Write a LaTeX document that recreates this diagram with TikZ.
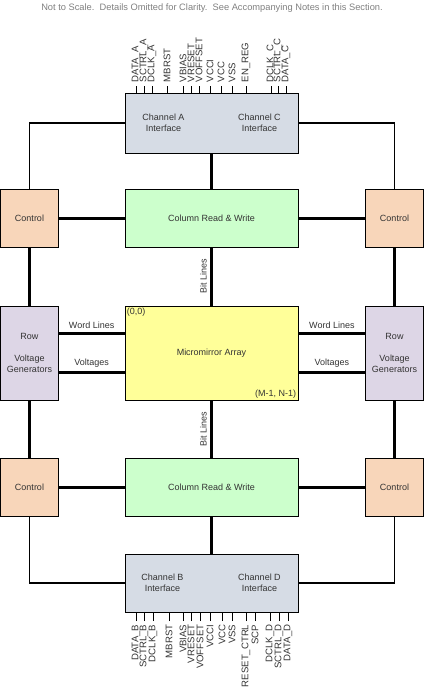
\documentclass[tikz,border=0pt]{standalone}
\usepackage{fontspec}
\setmainfont{Liberation Sans}
\usetikzlibrary{calc}
\definecolor{chanfill}{RGB}{214,220,229}
\definecolor{colfill}{RGB}{204,255,204}
\definecolor{arrayfill}{RGB}{255,255,153}
\definecolor{ctlfill}{RGB}{248,214,186}
\definecolor{rowfill}{RGB}{221,214,230}
\colorlet{boxtext}{black!80}
\colorlet{notetext}{black!50}

\begin{document}
\begin{tikzpicture}[x=1pt,y=-1pt,
        font=\fontsize{9}{11}\selectfont,
        blockbox/.style={draw=black, line width=0.8pt, text=boxtext, align=center,
            minimum width=173pt, inner sep=2pt},
        sidebox/.style={draw=black, line width=0.8pt, text=boxtext, align=center,
            minimum width=57.5pt, inner sep=2pt},
        thickline/.style={line width=3pt},
        thinline/.style={line width=1.2pt},
        pinlabel/.style={rotate=90, inner sep=3.5pt, text=boxtext,
            font=\fontsize{9.6}{12}\selectfont}]
        \useasboundingbox (0,0) rectangle (424,689);

        \node[text=notetext, font=\fontsize{9.3}{11}\selectfont] (note) at (212,8)
            {Not to Scale.\ \ Details Omitted for Clarity.\ \ See Accompanying Notes in this Section.};

        % centre column
        \node[blockbox, fill=chanfill, minimum height=60pt] (chAC) at (211.5,123) {};
        \node[blockbox, fill=colfill, minimum height=58pt] (colT) at (211.5,218) {Column Read \& Write};
        \node[blockbox, fill=arrayfill, minimum height=94pt] (mirror) at (211.5,353) {Micromirror Array};
        \node[blockbox, fill=colfill, minimum height=58pt] (colB) at (211.5,487) {Column Read \& Write};
        \node[blockbox, fill=chanfill, minimum height=58pt] (chBD) at (211.5,583) {};

        \node[text=boxtext, align=center] (chA) at ($(chAC)+(-48,0)$) {Channel A\\Interface};
        \node[text=boxtext, align=center] (chC) at ($(chAC)+(48,0)$) {Channel C\\Interface};
        \node[text=boxtext, align=center] (chB) at ($(chBD)+(-49,0)$) {Channel B\\Interface};
        \node[text=boxtext, align=center] (chD) at ($(chBD)+(48,0)$) {Channel D\\Interface};

        \node[text=boxtext, anchor=north west, inner sep=2pt] (origin) at (mirror.north west) {(0,0)};
        \node[text=boxtext, anchor=south east, inner sep=2pt] (corner) at (mirror.south east) {(M-1, N-1)};

        % side columns
        \node[sidebox, fill=ctlfill, minimum height=58pt] (ctlTL) at (29.5,218) {Control};
        \node[sidebox, fill=rowfill, minimum height=94pt] (rowL) at (29.5,353) {Row\\ \\Voltage\\Generators};
        \node[sidebox, fill=ctlfill, minimum height=58pt] (ctlBL) at (29.5,487) {Control};
        \node[sidebox, fill=ctlfill, minimum height=58pt] (ctlTR) at (394.5,218) {Control};
        \node[sidebox, fill=rowfill, minimum height=94pt] (rowR) at (394.5,353) {Row\\ \\Voltage\\Generators};
        \node[sidebox, fill=ctlfill, minimum height=58pt] (ctlBR) at (394.5,487) {Control};

        % buses
        \draw[thickline] (chAC) -- (colT);
        \draw[thickline] (colT) -- node[midway, rotate=90, anchor=south, text=boxtext] {Bit Lines} (mirror);
        \draw[thickline] (mirror) -- node[midway, rotate=90, anchor=south, text=boxtext] {Bit Lines} (colB);
        \draw[thickline] (colB) -- (chBD);

        \draw[thickline] (ctlTL) -- (colT);
        \draw[thickline] (ctlBL) -- (colB);
        \draw[thickline] (ctlTR) -- (colT);
        \draw[thickline] (ctlBR) -- (colB);
        \draw[thickline] (ctlTL) -- (rowL);
        \draw[thickline] (rowL) -- (ctlBL);
        \draw[thickline] (ctlTR) -- (rowR);
        \draw[thickline] (rowR) -- (ctlBR);

        \draw[thickline] ([yshift=20pt]rowL.east) -- node[above, text=boxtext] {Word Lines} ([yshift=20pt]mirror.west);
        \draw[thickline] ([yshift=-19pt]rowL.east) -- node[above, text=boxtext] {Voltages} ([yshift=-19pt]mirror.west);
        \draw[thickline] ([yshift=20pt]rowR.west) -- node[above, text=boxtext] {Word Lines} ([yshift=20pt]mirror.east);
        \draw[thickline] ([yshift=-19pt]rowR.west) -- node[above, text=boxtext] {Voltages} ([yshift=-19pt]mirror.east);

        \draw[thinline] (chAC.west) -| (ctlTL.north);
        \draw[thinline] (chAC.east) -| (ctlTR.north);
        \draw[thinline] (chBD.west) -| (ctlBL.south);
        \draw[thinline] (chBD.east) -| (ctlBR.south);

        % pins
        \foreach \x/\pinname [count=\i] in {136/DATA\_A, 144/SCTRL\_A, 152/DCLK\_A, 167/MBRST,
                183/VBIAS, 191/VRESET, 199/VOFFSET, 210/VCCI, 221/VCC, 232/VSS,
                246/EN\_REG, 271/DCLK\_C, 278/SCTRL\_C, 286/DATA\_C}
        {
            \node[pinlabel, anchor=west] (pinT\i) at (\x,86) {\pinname};
            \draw[line width=0.8pt] (pinT\i.west) -- (pinT\i.west |- chAC.north);
        }
        \foreach \x/\pinname [count=\i] in {136/DATA\_B, 144/SCTRL\_B, 153/DCLK\_B, 169/MBRST,
                183/VBIAS, 191/VRESET, 200/VOFFSET, 210/VCCI, 222/VCC, 232/VSS,
                246/RESET\_CTRL, 255/SCP, 270/DCLK\_D, 279/SCTRL\_D, 288/DATA\_D}
        {
            \node[pinlabel, anchor=east] (pinB\i) at (\x,621) {\pinname};
            \draw[line width=0.8pt] (pinB\i.east) -- (pinB\i.east |- chBD.south);
        }
    \end{tikzpicture}
\end{document}
